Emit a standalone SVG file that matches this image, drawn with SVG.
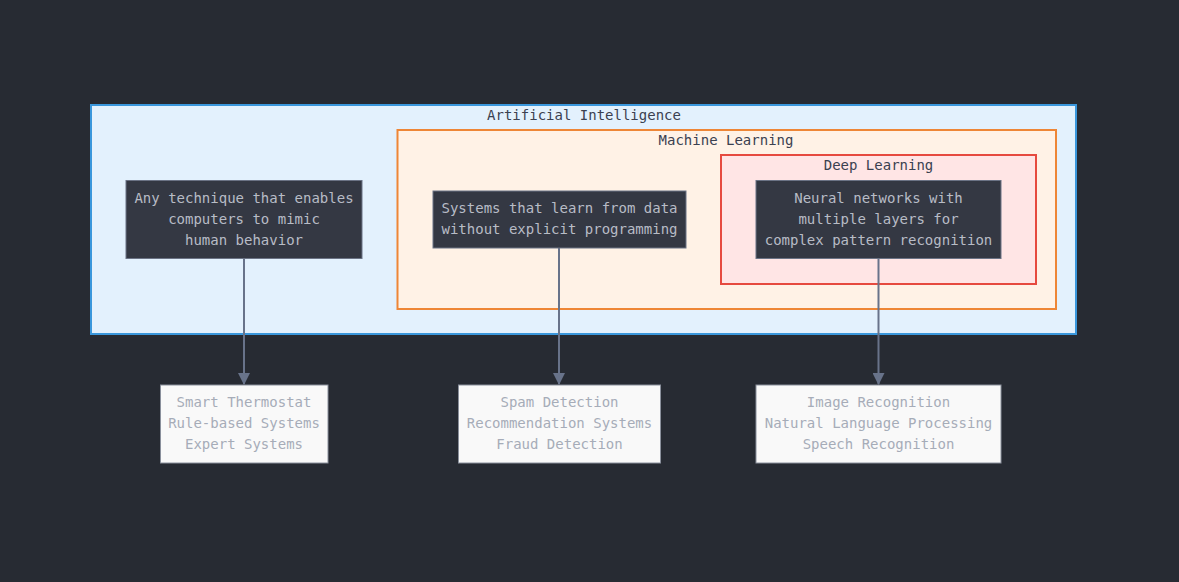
<svg xmlns="http://www.w3.org/2000/svg" width="1179" height="582" viewBox="0 0 1179 582">
<style>
text{font-family:"DejaVu Sans Mono","Liberation Mono",monospace;font-size:14px;text-anchor:middle}
.title{fill:#3b4150}
.dark rect{fill:#343843;stroke:#6b7385;stroke-width:1}
.dark text{fill:#b8bcc6}
.leaf rect{fill:#f9f9f9;stroke:#8a909c;stroke-width:1}
.leaf text{fill:#a6acb8}
.edge{stroke:#68738a;stroke-width:2;fill:none}
</style>
<defs>
<marker id="arr" viewBox="0 0 12 12" refX="11" refY="6" markerWidth="12" markerHeight="12" markerUnits="userSpaceOnUse" orient="auto">
<path d="M0,0 L12,6 L0,12 z" fill="#68738a"/>
</marker>
</defs>
<rect width="1179" height="582" fill="#272b33"/>
<g id="cluster-ai">
<rect x="91" y="105" width="985" height="229" fill="#e3f1fd" stroke="#3a97dc" stroke-width="2"/>
<text class="title" x="584" y="120">Artificial Intelligence</text>
</g>
<g id="cluster-ml">
<rect x="397.5" y="130" width="658.5" height="179" fill="#fff2e6" stroke="#ee8636" stroke-width="2"/>
<text class="title" x="726" y="145">Machine Learning</text>
</g>
<g id="cluster-dl">
<rect x="721" y="155" width="315" height="129" fill="#ffe5e5" stroke="#e64a3f" stroke-width="2"/>
<text class="title" x="878.5" y="170">Deep Learning</text>
</g>
<g id="connectors">
<line class="edge" x1="244" y1="259" x2="244" y2="384" marker-end="url(#arr)"/>
<line class="edge" x1="559" y1="248" x2="559" y2="384" marker-end="url(#arr)"/>
<line class="edge" x1="878.5" y1="258" x2="878.5" y2="384" marker-end="url(#arr)"/>
</g>
<g id="node-ai" class="dark">
<rect x="126" y="180.5" width="236" height="78"/>
<text x="244" y="203">Any technique that enables</text>
<text x="244" y="224">computers to mimic</text>
<text x="244" y="245">human behavior</text>
</g>
<g id="node-ml" class="dark">
<rect x="433" y="191" width="253" height="57"/>
<text x="559.5" y="213">Systems that learn from data</text>
<text x="559.5" y="234">without explicit programming</text>
</g>
<g id="node-dl" class="dark">
<rect x="756" y="180.5" width="245" height="78"/>
<text x="878.5" y="203">Neural networks with</text>
<text x="878.5" y="224">multiple layers for</text>
<text x="878.5" y="245">complex pattern recognition</text>
</g>
<g id="leaf-ai" class="leaf">
<rect x="160.5" y="385" width="167.5" height="78"/>
<text x="244" y="407">Smart Thermostat</text>
<text x="244" y="428">Rule-based Systems</text>
<text x="244" y="449">Expert Systems</text>
</g>
<g id="leaf-ml" class="leaf">
<rect x="458.5" y="385" width="202" height="78"/>
<text x="559.5" y="407">Spam Detection</text>
<text x="559.5" y="428">Recommendation Systems</text>
<text x="559.5" y="449">Fraud Detection</text>
</g>
<g id="leaf-dl" class="leaf">
<rect x="756" y="385" width="245" height="78"/>
<text x="878.5" y="407">Image Recognition</text>
<text x="878.5" y="428">Natural Language Processing</text>
<text x="878.5" y="449">Speech Recognition</text>
</g>
</svg>
